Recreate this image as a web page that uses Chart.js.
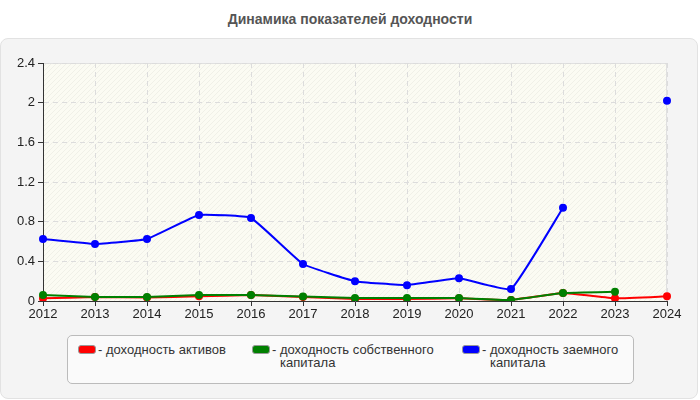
<!DOCTYPE html>
<html>
<head>
<meta charset="utf-8">
<script src="https://cdn.jsdelivr.net/npm/chart.js@4"></script>
<style>
    body { margin: 0; width: 700px; height: 400px; background: #fff; font-family: "Liberation Sans", Arial, sans-serif; position: relative; overflow: hidden; }
    #title { position: absolute; left: 0; top: 11px; width: 700px; text-align: center; font-size: 14px; font-weight: bold; color: #555; }
    #panel { position: absolute; left: 0; top: 38px; width: 696px; height: 359px; background: #f4f4f4; border: 1px solid #e2e2e2; border-radius: 8px; }
    #wrap { position: absolute; left: 0; top: 0; width: 696px; height: 290px; }
    #legend { position: absolute; left: 66px; top: 296px; width: 565px; height: 47px; background: #fafafa; border: 1px solid #bbb; border-radius: 5px; }
    .item { position: absolute; top: 7px; font-size: 13px; color: #333; line-height: 13px; }
    .sw { position: absolute; left: 0; top: 2px; width: 16px; height: 7px; border: 1px solid #999; border-radius: 3px; }
    .txt { position: absolute; left: 20px; top: 0; white-space: nowrap; }
    .txt span { padding-left: 8px; display: block; }
</style>
</head>
<body>
<div id="title">Динамика показателей доходности</div>
<div id="panel">
    <div id="wrap"><canvas id="chart"></canvas></div>
    <div id="legend"></div>
</div>
<script>
var years = ["2012", "2013", "2014", "2015", "2016", "2017", "2018", "2019", "2020", "2021", "2022", "2023", "2024"];
var assetsReturn = [0.027, 0.04, 0.035, 0.047, 0.06, 0.04, 0.02, 0.02, 0.027, 0.01, 0.08, 0.027, 0.047];
var equityReturn = [0.06, 0.04, 0.04, 0.06, 0.06, 0.045, 0.03, 0.03, 0.03, 0.01, 0.08, 0.093, null];
var debtReturn = [0.625, 0.575, 0.625, 0.867, 0.837, 0.373, 0.2, 0.16, 0.23, 0.12, 0.94, null, 2.02];
var yTicks = [0, 0.4, 0.8, 1.2, 1.6, 2, 2.4];

var legendLines = [
    ["доходность активов"],
    ["доходность собственного", "капитала"],
    ["доходность заемного", "капитала"]
];
var legendX = [10, 184, 394];

// hatched plot background
function makePattern() {
    var c = document.createElement('canvas');
    c.width = 5; c.height = 5;
    var g = c.getContext('2d');
    g.fillStyle = '#fbfbf3';
    g.fillRect(0, 0, 5, 5);
    g.strokeStyle = 'rgba(0,0,0,0.045)';
    g.lineWidth = 1;
    g.beginPath();
    g.moveTo(0, 5); g.lineTo(5, 0);
    g.moveTo(-1, 1); g.lineTo(1, -1);
    g.moveTo(4, 6); g.lineTo(6, 4);
    g.stroke();
    return g.createPattern(c, 'repeat');
}

var plotBg = {
    id: 'plotBg',
    beforeDraw: function(chart) {
        var a = chart.chartArea, ctx = chart.ctx;
        ctx.save();
        ctx.fillStyle = makePattern();
        ctx.fillRect(a.left, a.top, a.right - a.left, a.bottom - a.top);
        ctx.strokeStyle = '#e0e0e0';
        ctx.lineWidth = 1;
        ctx.beginPath();
        ctx.moveTo(a.left, a.top + 0.5); ctx.lineTo(a.right - 0.5, a.top + 0.5); ctx.lineTo(a.right - 0.5, a.bottom);
        ctx.stroke();
        ctx.restore();
    }
};

function ds(label, data, color, order) {
    return {
        label: label,
        data: data,
        borderColor: color,
        backgroundColor: color,
        borderWidth: 2,
        pointRadius: 3,
        pointHoverRadius: 3,
        tension: 0.1,
        spanGaps: false,
        order: order
    };
}

var datasets = [
    ds('доходность активов', assetsReturn, '#ff0000', 3),
    ds('доходность собственного капитала', equityReturn, '#008000', 2),
    ds('доходность заемного капитала', debtReturn, '#0000ff', 1)
];

var chart = new Chart(document.getElementById('chart'), {
    type: 'line',
    data: { labels: years, datasets: datasets },
    plugins: [plotBg],
    options: {
        responsive: true,
        maintainAspectRatio: false,
        animation: false,
        layout: { padding: { top: 24, right: 30, left: 0, bottom: 0 } },
        plugins: { legend: { display: false }, tooltip: { enabled: false } },
        scales: {
            x: {
                offset: false,
                grid: { color: '#dcdcdc', tickColor: '#333', tickLength: 5, tickBorderDash: [1, 0] },
                border: { color: '#333', width: 1, dash: [5, 4] },
                ticks: { color: '#222', font: { family: 'Liberation Sans', size: 13 }, padding: 1, maxRotation: 0, autoSkip: false },
                afterFit: function(s) { s.height = 28; }
            },
            y: {
                min: 0,
                max: 2.4,
                afterBuildTicks: function(s) { s.ticks = yTicks.map(function(v) { return { value: v }; }); },
                grid: { color: '#dcdcdc', tickColor: '#333', tickLength: 5, tickBorderDash: [1, 0] },
                border: { color: '#333', width: 1, dash: [5, 4] },
                ticks: {
                    color: '#222',
                    font: { family: 'Liberation Sans', size: 13 },
                    padding: 3,
                    callback: function(v) { return String(Math.round(v * 10) / 10); }
                },
                afterFit: function(s) { s.width = 42; }
            }
        }
    }
});

// legend built from the datasets
var legend = document.getElementById('legend');
datasets.forEach(function(d, i) {
    var item = document.createElement('div');
    item.className = 'item';
    item.style.left = legendX[i] + 'px';
    var sw = document.createElement('div');
    sw.className = 'sw';
    sw.style.background = d.borderColor;
    item.appendChild(sw);
    var txt = document.createElement('div');
    txt.className = 'txt';
    txt.innerHTML = '- ' + legendLines[i][0] + (legendLines[i][1] ? '<span>' + legendLines[i][1] + '</span>' : '');
    item.appendChild(txt);
    legend.appendChild(item);
});
</script>
</body>
</html>
